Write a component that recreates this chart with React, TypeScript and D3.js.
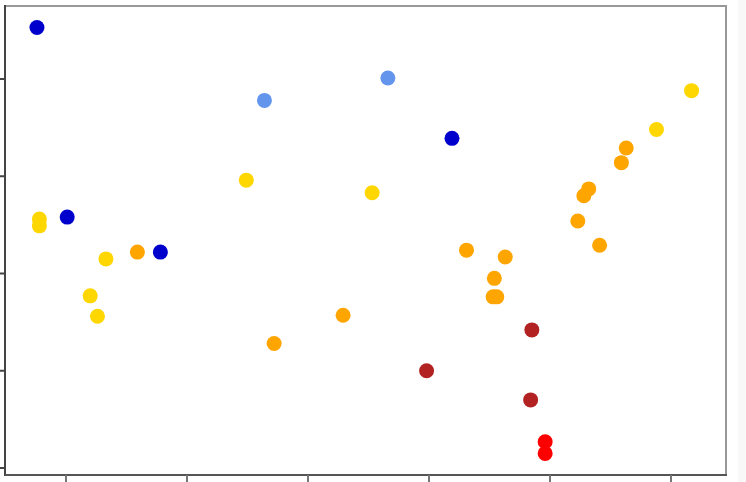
import React from "react";
import * as d3 from "d3";

const xTicks = [0, 1, 2, 3, 4, 5];
const yTicks = [0, 1, 2, 3, 4];

const darkBlueX = [-0.24, 0.01, 0.78, 3.19];
const darkBlueY = [4.53, 2.58, 2.22, 3.39];

const cornflowerX = [1.64, 2.66];
const cornflowerY = [3.78, 4.01];

const goldX = [5.17, 4.88, 1.49, 2.53, -0.22, -0.22, 0.33, 0.2, 0.26];
const goldY = [3.88, 3.48, 2.96, 2.83, 2.56, 2.49, 2.15, 1.77, 1.56];

const orangeX = [4.63, 4.59, 4.32, 4.28, 4.23, 4.41, 0.59, 3.31, 3.63, 3.54, 3.53, 3.56, 1.72, 2.29];
const orangeY = [3.29, 3.14, 2.87, 2.8, 2.54, 2.29, 2.22, 2.24, 2.17, 1.95, 1.76, 1.76, 1.28, 1.57];

const firebrickX = [2.98, 3.85, 3.84];
const firebrickY = [1.0, 1.42, 0.7];

const redX = [3.96, 3.96];
const redY = [0.27, 0.15];

const series = [
  { xs: orangeX, ys: orangeY, color: "#FFA500" },
  { xs: goldX, ys: goldY, color: "#FFD700" },
  { xs: darkBlueX, ys: darkBlueY, color: "#0000CD" },
  { xs: cornflowerX, ys: cornflowerY, color: "#6495ED" },
  { xs: firebrickX, ys: firebrickY, color: "#B22222" },
  { xs: redX, ys: redY, color: "#FF0000" },
];

export default function App() {
  const W = 746;
  const H = 482;
  const left = 5, right = 726, top = 6, bottom = 475;
  const x = d3.scaleLinear().domain([0, 5]).range([66, 671]);
  const y = d3.scaleLinear().domain([0, 4]).range([468, 79]);

  return (
    <svg
      width={W}
      height={H}
      style={{ position: "absolute", left: 0, top: 0, background: "#fff" }}
    >
      <rect x={738} y={0} width={W - 738} height={H} fill="#f8f8f8" />
      <rect x={left} y={top} width={right - left} height={bottom - top} fill="#fff" />
      {/* frame */}
      <line x1={left} x2={right + 1} y1={top} y2={top} stroke="#999" strokeWidth={2} />
      <line x1={right} x2={right} y1={top} y2={bottom} stroke="#999" strokeWidth={2} />
      <line x1={left} x2={left} y1={top - 1} y2={bottom + 1} stroke="#444" strokeWidth={2} />
      <line x1={left} x2={right + 1} y1={bottom} y2={bottom} stroke="#555" strokeWidth={2} />
      {yTicks.map((t) => (
        <line key={"yt" + t} x1={0} x2={left} y1={y(t)} y2={y(t)} stroke="#444" strokeWidth={2} />
      ))}
      {xTicks.map((t) => (
        <line key={"xt" + t} x1={x(t)} x2={x(t)} y1={bottom} y2={H} stroke="#777" strokeWidth={2} />
      ))}
      {series.map((s, si) =>
        s.xs.map((xv, i) => (
          <circle key={si + "-" + i} cx={x(xv)} cy={y(s.ys[i])} r={7.5} fill={s.color} />
        ))
      )}
    </svg>
  );
}
